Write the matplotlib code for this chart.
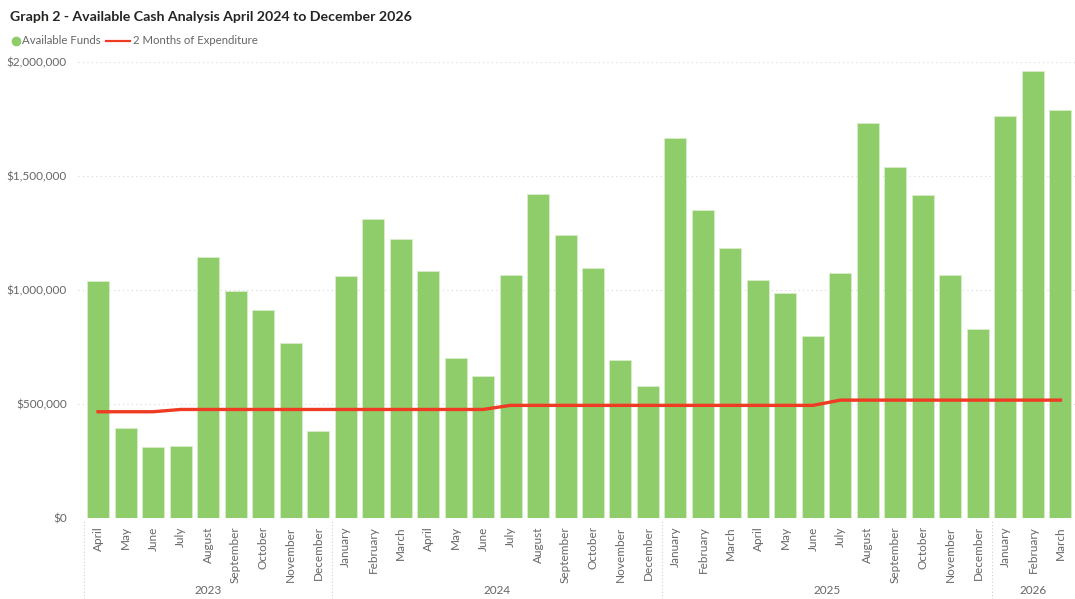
import matplotlib.pyplot as plt
from matplotlib.ticker import FuncFormatter, MultipleLocator
from matplotlib.lines import Line2D
import matplotlib.transforms as mtransforms

plt.rcParams['font.family'] = ['Lato', 'DejaVu Sans']

months = ['April', 'May', 'June', 'July', 'August', 'September', 'October', 'November', 'December',
          'January', 'February', 'March', 'April', 'May', 'June', 'July', 'August', 'September',
          'October', 'November', 'December',
          'January', 'February', 'March', 'April', 'May', 'June', 'July', 'August', 'September',
          'October', 'November', 'December',
          'January', 'February', 'March']
years = ['2023', '2024', '2025', '2026']
year_counts = [9, 12, 12, 3]

funds = [1040000, 395000, 311000, 316000, 1145000, 996000, 912000, 768000, 382000,
         1061000, 1311000, 1224000, 1083000, 702000, 623000, 1066000, 1421000, 1241000,
         1096000, 693000, 579000,
         1667000, 1351000, 1184000, 1044000, 987000, 798000, 1075000, 1732000, 1539000,
         1417000, 1066000, 829000,
         1763000, 1961000, 1789000]

expend = [466000, 466000, 466000] + [476000] * 12 + [494000] * 12 + [517000] * 9

green = '#8fcc6a'
red = '#ef3b23'
grey = '#666666'

fig = plt.figure(figsize=(10.75, 5.99), dpi=100)
ax = fig.add_axes([78/1075, 81/599, 997/1075, 456/599])

x = list(range(len(months)))
ax.bar(x, funds, width=0.8, color=green, edgecolor='#d8eecb', linewidth=0.6, zorder=2)
ax.plot(x, expend, color=red, linewidth=2.4, zorder=3, solid_joinstyle='round')

ax.set_xlim(-0.73, 35.53)
ax.set_ylim(0, 2000000)
ax.yaxis.set_major_locator(MultipleLocator(500000))
ax.yaxis.set_major_formatter(FuncFormatter(lambda v, p: '${:,.0f}'.format(v)))
ax.grid(axis='y', color='#d9d9d9', linestyle=(0, (1, 3)), linewidth=0.8, zorder=0)
for s in ax.spines.values():
    s.set_visible(False)
ax.tick_params(axis='y', length=0, labelsize=8.5, labelcolor=grey, pad=8)
ax.set_xticks(x)
ax.set_xticklabels(months, rotation=90, fontsize=8.5, color=grey)
ax.tick_params(axis='x', length=0, pad=6)

# year group labels and separators
trans = mtransforms.blended_transform_factory(ax.transData, fig.transFigure)
start = 0
bounds = [-0.5]
for yr, n in zip(years, year_counts):
    mid = start + (n - 1) / 2
    ax.text(mid, 9/599, yr, transform=trans, ha='center', va='center', fontsize=8.5, color=grey)
    start += n
    bounds.append(start - 0.5)
for b in bounds[:-1]:
    ax.add_line(Line2D([b, b], [0, 79/599], transform=trans, color='#d0d0d0',
                       linestyle=(0, (1, 2)), linewidth=0.8, clip_on=False))

fig.text(10/1075, 1 - 17/599, 'Graph 2 - Available Cash Analysis April 2024 to December 2026',
         fontsize=10.2, fontweight='bold', color='#252423', va='center')

# legend
fig.add_artist(Line2D([16/1075], [1 - 41/599], marker='o', markersize=6, color=green,
                      linestyle='none', transform=fig.transFigure))
fig.text(22/1075, 1 - 41/599, 'Available Funds', fontsize=8.2, color=grey, va='center')
fig.add_artist(Line2D([106/1075, 130/1075], [1 - 41/599, 1 - 41/599], color=red,
                      linewidth=1.6, transform=fig.transFigure))
fig.text(133/1075, 1 - 41/599, '2 Months of Expenditure', fontsize=8.2, color=grey, va='center')

fig.savefig('out.png', dpi=100)
